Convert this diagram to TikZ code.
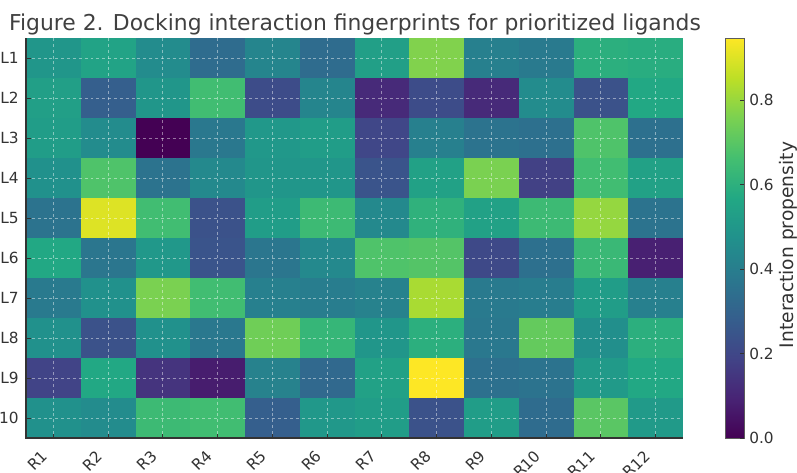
\documentclass[tikz,border=0pt]{standalone}
\usepackage{fontspec}
\setmainfont{DejaVu Sans}
\usetikzlibrary{calc}

\definecolor{vir0}{HTML}{440154}
\definecolor{vir1}{HTML}{482475}
\definecolor{vir2}{HTML}{414487}
\definecolor{vir3}{HTML}{355F8D}
\definecolor{vir4}{HTML}{2A788E}
\definecolor{vir5}{HTML}{21918C}
\definecolor{vir6}{HTML}{22A884}
\definecolor{vir7}{HTML}{44BF70}
\definecolor{vir8}{HTML}{7AD151}
\definecolor{vir9}{HTML}{BDDF26}
\definecolor{vir10}{HTML}{FDE725}
\definecolor{labelgray}{HTML}{333333}
\definecolor{titlegray}{HTML}{404040}

\pgfdeclareverticalshading{viridisbar}{100bp}{color(0bp)=(vir0); color(25bp)=(vir0);
  color(30bp)=(vir1); color(35bp)=(vir2); color(40bp)=(vir3); color(45bp)=(vir4);
  color(50bp)=(vir5); color(55bp)=(vir6); color(60bp)=(vir7); color(65bp)=(vir8);
  color(70bp)=(vir9); color(75bp)=(vir10); color(100bp)=(vir10)}

% one heatmap cell: column, row, colour value (0..1)
\newcommand\heatcell[3]{%
  \pgfmathsetmacro\vval{10*#3}%
  \pgfmathtruncatemacro\vlo{min(floor(\vval),9)}%
  \pgfmathtruncatemacro\vhi{\vlo+1}%
  \pgfmathtruncatemacro\vpc{round(100*(\vval-\vlo))}%
  \fill[vir\vhi!\vpc!vir\vlo] ({26+(#1-1)*54.75},{38+(#2-1)*40}) rectangle +(54.75,40);
}

\begin{document}
\begin{tikzpicture}[x=0.75pt, y=-0.75pt,
    ticklabel/.style ={text=labelgray, font=\fontsize{11.5}{14}\selectfont, inner sep=1.5pt},
    titletext/.style ={text=titlegray, font=\fontsize{16.4}{19}\selectfont, inner sep=0pt},
    gridline/.style ={draw=white, opacity=0.45, line width=0.6pt, dash pattern=on 2.2pt off 2.2pt},
    spine/.style ={draw=labelgray, line width=0.9pt},
    tickmark/.style ={draw=labelgray, line width=0.7pt}]
   \useasboundingbox (0,0) rectangle (797,472);
   \fill[white] (0,0) rectangle (797,472);

   \node[titletext, anchor=base] (title) at (355,30) {Figure 2. Docking interaction fingerprints for prioritized ligands};

   % heatmap cells, one row per ligand
   \foreach \r/\vals in {
      1/{0.52,0.58,0.48,0.35,0.45,0.35,0.56,0.81,0.43,0.41,0.63,0.62},
      2/{0.56,0.30,0.52,0.69,0.23,0.45,0.12,0.23,0.12,0.48,0.25,0.60},
      3/{0.55,0.48,0.00,0.40,0.53,0.55,0.21,0.43,0.38,0.37,0.72,0.37},
      4/{0.50,0.72,0.38,0.47,0.52,0.52,0.26,0.57,0.80,0.19,0.69,0.57},
      5/{0.38,0.95,0.69,0.25,0.55,0.68,0.47,0.64,0.57,0.68,0.84,0.38},
      6/{0.60,0.39,0.53,0.26,0.39,0.47,0.72,0.73,0.22,0.37,0.67,0.09},
      7/{0.41,0.50,0.80,0.69,0.43,0.42,0.44,0.87,0.41,0.42,0.55,0.43},
      8/{0.50,0.25,0.50,0.40,0.78,0.66,0.52,0.63,0.40,0.76,0.49,0.63},
      9/{0.20,0.60,0.15,0.08,0.44,0.34,0.57,1.00,0.37,0.38,0.54,0.60},
      10/{0.50,0.48,0.68,0.69,0.30,0.53,0.55,0.25,0.55,0.35,0.74,0.54}}
      \foreach \v [count=\c] in \vals { \heatcell{\c}{\r}{\v} };

   % dashed grid through the cell centres
   \foreach \c in {1,...,12}
      \draw[gridline] ({26+(\c-0.5)*54.75},38) -- ({26+(\c-0.5)*54.75},438);
   \foreach \r in {1,...,10}
      \draw[gridline] (26,{38+(\r-0.5)*40}) -- (683,{38+(\r-0.5)*40});

   \draw[spine] (26,38) -- (26,438) -- (683,438);

   % ligand labels
   \foreach \r/\txt in {1/L1,2/L2,3/L3,4/L4,5/L5,6/L6,7/L7,8/L8,9/L9,10/10} {
      \draw[tickmark] (26,{38+(\r-0.5)*40}) -- (30.5,{38+(\r-0.5)*40});
      \node[ticklabel, anchor=east] (lig\r) at (21,{38+(\r-0.5)*40}) {\txt};
   }
   % residue labels
   \foreach \c in {1,...,12} {
      \draw[tickmark] ({26+(\c-0.5)*54.75},438) -- ({26+(\c-0.5)*54.75},433.5);
      \node[ticklabel, rotate=45, anchor=east] (res\c) at ({26+(\c-0.5)*54.75-7},452) {R\c};
   }

   % colour bar
   \shade[shading=viridisbar] (725,38) rectangle (744,438);
   \draw[draw=labelgray!80, line width=0.6pt] (725,38) rectangle (744,438);
   \foreach \v in {0.0,0.2,0.4,0.6,0.8} {
      \draw[tickmark] (744,{438-\v/0.947*400}) -- (740,{438-\v/0.947*400});
      \node[ticklabel, anchor=west] (cb\v) at (747,{438-\v/0.947*400}) {\v};
   }
   \node[ticklabel, rotate=90, font=\fontsize{14}{16}\selectfont] (cblabel) at (788,245) {Interaction propensity};
\end{tikzpicture}
\end{document}
